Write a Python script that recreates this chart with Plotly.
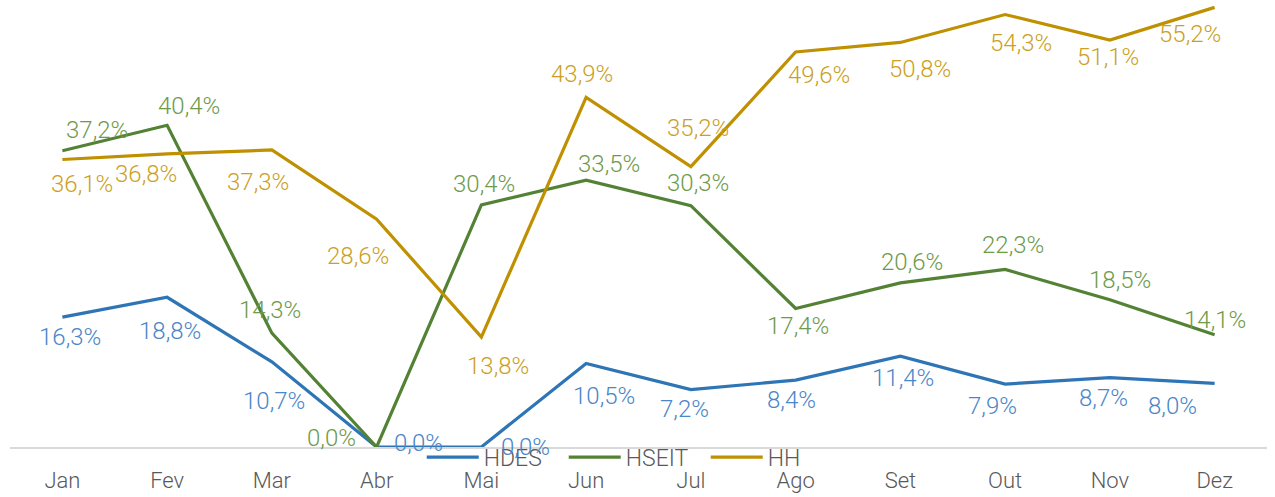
import plotly.graph_objects as go

months = ["Jan", "Fev", "Mar", "Abr", "Mai", "Jun", "Jul", "Ago", "Set", "Out", "Nov", "Dez"]

hdes = [16.3, 18.8, 10.7, 0.0, 0.0, 10.5, 7.2, 8.4, 11.4, 7.9, 8.7, 8.0]
hseit = [37.2, 40.4, 14.3, 0.0, 30.4, 33.5, 30.3, 17.4, 20.6, 22.3, 18.5, 14.1]
hh = [36.1, 36.8, 37.3, 28.6, 13.8, 43.9, 35.2, 49.6, 50.8, 54.3, 51.1, 55.2]

# label offsets in pixels (dx right, dy down) relative to each point
hdes_dx = [8, 3, 2, 42, 44, 18, -6, -4, 3, -13, -6, -42]
hdes_dy = [20, 34, 39, -4, 0, 33, 19, 20, 22, 22, 20, 23]
hseit_dx = [35, 22, -2, -45, 3, 23, 7, 2, 12, 8, 10, 0]
hseit_dy = [-21, -19, -23, -9, -21, -16, -23, 18, -21, -24, -20, -15]
hh_dx = [20, -21, -14, -19, 17, -4, 7, 23, 20, 16, -2, -25]
hh_dy = [24, 20, 32, 37, 29, -23, -39, 23, 27, 28, 17, 27]

FONT = "Roboto"
series = [
    ("HDES", hdes, "#2E75B6", "#4A86C8", hdes_dx, hdes_dy),
    ("HSEIT", hseit, "#548235", "#6E9A4B", hseit_dx, hseit_dy),
    ("HH", hh, "#BF9000", "#CC9F22", hh_dx, hh_dy),
]

fig = go.Figure()
annotations = []
for name, vals, lc, tc, dxs, dys in series:
    fig.add_trace(go.Scatter(
        x=months, y=vals, mode="lines", name=name,
        line=dict(color=lc, width=3.2),
    ))
    for m, v, dx, dy in zip(months, vals, dxs, dys):
        annotations.append(dict(
            x=m, y=v, xref="x", yref="y",
            text=f"{v:.1f}%".replace(".", ","),
            showarrow=False, xshift=dx, yshift=-dy,
            font=dict(family=FONT, size=24, color=tc, weight=300),
        ))

fig.update_layout(
    width=1275, height=497,
    margin=dict(l=10, r=8, t=5, b=50),
    paper_bgcolor="white", plot_bgcolor="white",
    showlegend=True,
    legend=dict(
        orientation="h", x=0.497, xanchor="center", y=-0.023, yanchor="middle",
        font=dict(family=FONT, size=23, color="#595959", weight=300),
        bgcolor="rgba(0,0,0,0)", itemwidth=52, tracegroupgap=0,
        entrywidth=75,
    ),
    annotations=annotations,
    xaxis=dict(
        range=[-0.5, 11.5], showgrid=False, showline=True,
        linecolor="#D9D9D9", linewidth=1.5,
        ticks="outside", ticklen=13, tickcolor="rgba(0,0,0,0)",
        tickfont=dict(family=FONT, size=22, color="#595959", weight=300),
        zeroline=False,
    ),
    yaxis=dict(visible=False, range=[0, 55.5], showgrid=False, zeroline=False),
)

fig.write_html(
    "out.html",
    config={"displayModeBar": False},
    post_script="document.body.style.margin='0';document.body.style.overflow='hidden';",
)
